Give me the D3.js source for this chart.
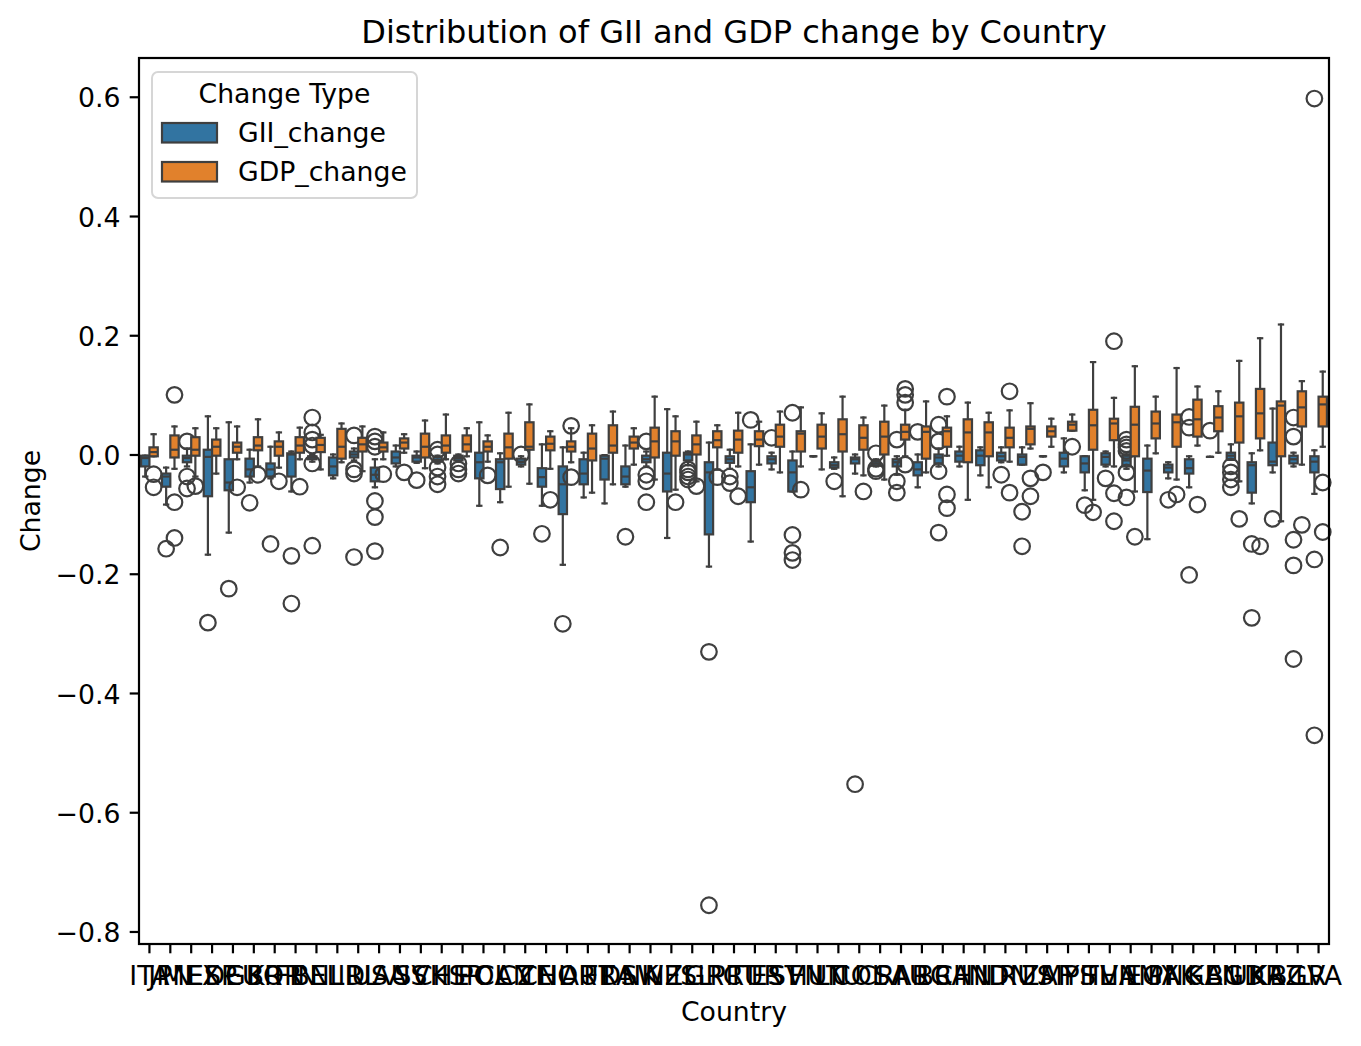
<!DOCTYPE html>
<html>
<head>
<meta charset="utf-8">
<script src="https://cdn.jsdelivr.net/npm/d3@7"></script>
<style>
  body { margin: 0; background: #fff; }
  text { font-family: "DejaVu Sans", sans-serif; fill: #000; }
</style>
</head>
<body>
<div id="chart"></div>
<script>
const countries = ["ITA","JPN","MEX","ESP","DEU","GBR","KOR","FIN","BEL","NLD","IRL","USA","AUS","SVK","CHE","ISR","POL","CAN","CZE","CHL","NOR","AUT","FRA","DNK","SWE","NZL","ISL","GRC","PRT","TUR","EST","SVN","HUN","LTU","COL","CRI","SAU","ARG","BRA","CHN","IND","IDN","RUS","ZAF","MYS","PHL","THA","VNM","EGY","PAK","NGA","KEN","BGD","UKR","KAZ","BGR","LVA"];

const changeTypes = ["GII_change", "GDP_change"];

// [lower whisker, q1, median, q3, upper whisker]
const giiStats = [
  [-0.037,-0.02,-0.006,-0.002,-0.002],[-0.084,-0.054,-0.037,-0.032,-0.022],[-0.02,-0.013,-0.006,-0.002,0.01],
  [-0.168,-0.07,-0.004,0.008,0.064],[-0.131,-0.06,-0.047,-0.008,0.054],[-0.047,-0.037,-0.025,-0.007,0.008],
  [-0.04,-0.037,-0.025,-0.015,0.013],[-0.062,-0.037,0.0,0.002,0.005],[-0.012,-0.008,-0.005,-0.003,0.0],
  [-0.04,-0.035,-0.02,-0.005,0.0],[-0.01,-0.005,0.0,0.005,0.01],[-0.055,-0.045,-0.034,-0.022,-0.008],
  [-0.02,-0.015,-0.005,0.005,0.015],[-0.014,-0.012,-0.005,-0.002,0.005],[-0.015,-0.012,-0.009,-0.004,-0.002],
  [-0.012,-0.01,-0.006,-0.002,0.0],[-0.086,-0.04,-0.013,0.003,0.054],[-0.08,-0.058,-0.013,-0.008,0.002],
  [-0.02,-0.017,-0.012,-0.007,-0.003],[-0.086,-0.054,-0.038,-0.023,0.017],[-0.185,-0.1,-0.05,-0.02,0.012],
  [-0.072,-0.05,-0.032,-0.008,0.003],[-0.082,-0.042,-0.007,-0.002,-0.001],[-0.054,-0.05,-0.037,-0.02,0.015],
  [-0.02,-0.013,-0.008,-0.002,0.005],[-0.14,-0.062,-0.032,0.003,0.076],[-0.018,-0.01,0.0,0.003,0.005],
  [-0.188,-0.134,-0.03,-0.013,0.02],[-0.024,-0.014,-0.008,-0.003,0.008],[-0.146,-0.08,-0.055,-0.028,0.017],
  [-0.025,-0.015,-0.008,-0.003,0.003],[-0.062,-0.062,-0.03,-0.01,0.005],[-0.003,-0.003,-0.003,-0.003,-0.003],
  [-0.024,-0.022,-0.018,-0.013,-0.005],[-0.032,-0.015,-0.008,-0.005,0.0],[-0.02,-0.019,-0.015,-0.011,-0.008],
  [-0.034,-0.02,-0.013,-0.008,-0.003],[-0.055,-0.035,-0.025,-0.013,0.0],[-0.02,-0.015,-0.005,0.0,0.01],
  [-0.02,-0.012,-0.002,0.005,0.013],[-0.035,-0.018,-0.002,0.007,0.012],[-0.013,-0.01,-0.003,0.003,0.012],
  [-0.017,-0.017,-0.004,0.0,0.012],[-0.003,-0.003,-0.003,-0.003,-0.003],[-0.03,-0.02,-0.007,0.003,0.027],
  [-0.06,-0.03,-0.015,-0.003,-0.003],[-0.02,-0.017,-0.004,0.002,0.005],[-0.024,-0.02,-0.01,-0.002,0.003],
  [-0.142,-0.063,-0.027,-0.007,0.015],[-0.04,-0.03,-0.022,-0.017,-0.013],[-0.055,-0.032,-0.023,-0.008,-0.003],
  [-0.004,-0.004,-0.004,-0.004,-0.004],[-0.009,-0.009,-0.002,0.003,0.017],[-0.082,-0.064,-0.018,-0.013,0.002],
  [-0.03,-0.018,-0.012,0.02,0.077],[-0.02,-0.015,-0.008,-0.002,0.003],[-0.066,-0.03,-0.012,-0.003,0.007]
];

const giiOutliers = [
  [],[-0.158],[0.022,-0.037,-0.057],[-0.282],[-0.225],[-0.081],[-0.15],[-0.17,-0.25],
  [0.062,0.037,0.025,0.015,-0.015,-0.153],[],[0.032,-0.025,-0.032,-0.172],[0.03,0.022,0.013,-0.078,-0.105,-0.162],
  [],[-0.043],[0.008,0.0,-0.022,-0.037,-0.05],[-0.015,-0.025,-0.032],[],[-0.156],[0.0],[-0.133],[-0.284],
  [],[],[-0.138],[0.022,-0.034,-0.045,-0.08],[],[-0.025,-0.03,-0.037,-0.042],[-0.331,-0.756],[-0.037,-0.048],
  [0.058],[0.028],[0.07,-0.135,-0.165,-0.177],[],[-0.045],[-0.553],[0.002,-0.024,-0.028],[0.025,-0.045,-0.064],
  [0.038],[0.05,0.022,-0.028,-0.131],[],[],[-0.034],[-0.096,-0.154],[-0.03],[],[-0.085],[-0.04],
  [0.025,0.017,0.012,0.006,-0.03,-0.072],[],[-0.076],[0.063,0.045,-0.202],[0.04],[-0.02,-0.03,-0.042,-0.055],
  [-0.15,-0.274],[-0.108],[0.062,0.03,-0.143,-0.186,-0.343],[0.597,-0.176,-0.471]
];

const gdpStats = [
  [-0.003,-0.003,0.004,0.012,0.034],[-0.024,-0.005,0.008,0.032,0.047],[-0.037,-0.002,0.008,0.029,0.044],
  [-0.032,-0.002,0.013,0.025,0.044],[-0.008,0.003,0.013,0.02,0.047],[-0.02,0.007,0.015,0.029,0.059],
  [-0.022,-0.002,0.013,0.022,0.037],[-0.008,0.003,0.015,0.029,0.045],[-0.025,0.004,0.016,0.028,0.033],
  [-0.013,-0.007,0.013,0.043,0.052],[-0.028,0.005,0.017,0.028,0.047],[-0.008,0.005,0.012,0.02,0.037],
  [0.003,0.01,0.02,0.027,0.034],[-0.023,-0.005,0.013,0.035,0.057],[-0.008,0.003,0.015,0.032,0.067],
  [-0.003,0.005,0.017,0.032,0.044],[-0.012,0.005,0.013,0.022,0.032],[-0.054,-0.007,0.012,0.035,0.07],
  [-0.049,0.008,0.013,0.054,0.084],[-0.024,0.007,0.018,0.03,0.039],[-0.013,0.005,0.013,0.022,0.044],
  [-0.064,-0.01,0.01,0.035,0.049],[-0.05,0.003,0.015,0.049,0.072],[-0.017,0.01,0.02,0.03,0.044],
  [-0.042,-0.005,0.022,0.045,0.097],[-0.059,-0.002,0.022,0.039,0.064],[-0.045,0.0,0.017,0.032,0.055],
  [-0.025,0.012,0.024,0.039,0.049],[-0.02,0.003,0.025,0.04,0.07],[-0.017,0.014,0.025,0.039,0.055],
  [-0.03,0.013,0.03,0.05,0.072],[-0.02,0.005,0.035,0.039,0.079],[-0.025,0.01,0.03,0.05,0.069],
  [-0.07,0.005,0.034,0.059,0.097],[-0.035,0.008,0.028,0.049,0.062],[-0.042,0.0,0.03,0.055,0.082],
  [-0.003,0.025,0.038,0.05,0.075],[-0.03,-0.007,0.038,0.047,0.089],[-0.002,0.013,0.039,0.045,0.064],
  [-0.076,-0.013,0.037,0.059,0.087],[-0.055,-0.003,0.037,0.054,0.07],[-0.012,0.012,0.028,0.045,0.074],
  [0.01,0.017,0.043,0.047,0.086],[0.013,0.03,0.039,0.047,0.06],[0.04,0.04,0.05,0.055,0.067],
  [-0.076,0.008,0.049,0.075,0.155],[-0.02,0.024,0.052,0.06,0.095],[-0.062,-0.003,0.05,0.08,0.148],
  [0.002,0.027,0.052,0.072,0.097],[-0.042,0.013,0.054,0.067,0.145],[0.015,0.03,0.059,0.092,0.114],
  [0.003,0.039,0.062,0.081,0.106],[-0.045,0.02,0.064,0.087,0.157],[0.007,0.027,0.069,0.11,0.195],
  [-0.112,-0.003,0.082,0.089,0.218],[-0.017,0.047,0.079,0.106,0.123],[0.013,0.047,0.084,0.097,0.139]
];

const gdpOutliers = [
  [-0.033,-0.055],[0.1,-0.08,-0.14],[-0.053],[],[-0.055],[-0.034],[-0.045],[-0.054],[],[],[],[-0.033],
  [-0.03],[],[],[],[-0.035],[],[],[-0.076],[0.048,-0.038],[],[],[],[],[-0.08],[-0.053],[-0.038],[-0.07],
  [],[],[-0.059],[],[],[-0.062],[],[0.11,0.1,0.087,-0.017],[],[0.097,-0.067,-0.09],[],[],[0.106,-0.064],
  [-0.04,-0.07],[],[0.013],[-0.097],[0.19,-0.065,-0.112],[-0.138],[],[-0.067],[-0.084],[],[-0.108],
  [-0.154],[],[-0.118],[-0.047,-0.13]
];

const yTicks = [-0.8, -0.6, -0.4, -0.2, 0.0, 0.2, 0.4, 0.6];

function init() {
  const margin = { top: 58, right: 32, bottom: 102, left: 139 },
    width = 1361 - margin.left - margin.right,
    height = 1046 - margin.top - margin.bottom;
  const lineColor = "#3f3f3f";
  const lw = 2.2;

  const svgRoot = d3.select("#chart").append("svg")
    .attr("width", 1361).attr("height", 1046);
  const svg = svgRoot.append("g")
    .attr("transform", "translate(" + margin.left + "," + margin.top + ")");

  const x = d3.scaleBand().domain(countries).range([0, width]).padding(0);
  const hue = d3.scaleBand().domain(changeTypes)
    .range([0.1 * x.bandwidth(), 0.9 * x.bandwidth()]).padding(0);
  const y = d3.scaleLinear().domain([-0.821, 0.665]).range([height, 0]);
  const color = d3.scaleOrdinal().domain(changeTypes).range(["#3274a1", "#e1812c"]);

  const series = [
    { key: "GII_change", stats: giiStats, outs: giiOutliers },
    { key: "GDP_change", stats: gdpStats, outs: gdpOutliers }
  ];

  const bw = hue.bandwidth();
  const capW = bw * 0.5;

  series.forEach(s => {
    const g = svg.append("g");
    const boxes = g.selectAll("g.box")
      .data(countries.map((c, i) => ({ country: c, st: s.stats[i], outs: s.outs[i] })))
      .enter().append("g")
      .attr("class", "box")
      .attr("transform", d => "translate(" + (x(d.country) + hue(s.key)) + ",0)");

    // whiskers
    boxes.append("line")
      .attr("x1", bw / 2).attr("x2", bw / 2)
      .attr("y1", d => y(d.st[3])).attr("y2", d => y(d.st[4]));
    boxes.append("line")
      .attr("x1", bw / 2).attr("x2", bw / 2)
      .attr("y1", d => y(d.st[1])).attr("y2", d => y(d.st[0]));
    // caps
    boxes.append("line")
      .attr("x1", bw / 2 - capW / 2).attr("x2", bw / 2 + capW / 2)
      .attr("y1", d => y(d.st[4])).attr("y2", d => y(d.st[4]));
    boxes.append("line")
      .attr("x1", bw / 2 - capW / 2).attr("x2", bw / 2 + capW / 2)
      .attr("y1", d => y(d.st[0])).attr("y2", d => y(d.st[0]));
    boxes.selectAll("line")
      .attr("stroke", lineColor).attr("stroke-width", lw).attr("stroke-linecap", "square");

    // box
    boxes.append("rect")
      .attr("x", 0).attr("width", bw)
      .attr("y", d => y(d.st[3]))
      .attr("height", d => y(d.st[1]) - y(d.st[3]))
      .attr("fill", color(s.key))
      .attr("stroke", lineColor).attr("stroke-width", lw);

    // median
    boxes.append("line")
      .attr("x1", 0).attr("x2", bw)
      .attr("y1", d => y(d.st[2])).attr("y2", d => y(d.st[2]))
      .attr("stroke", lineColor).attr("stroke-width", lw);

    // fliers
    boxes.selectAll("circle")
      .data(d => d.outs)
      .enter().append("circle")
      .attr("cx", bw / 2)
      .attr("cy", d => y(d))
      .attr("r", 7.8)
      .attr("fill", "none")
      .attr("stroke", lineColor).attr("stroke-width", lw);
  });

  // axes
  const xAxis = svg.append("g")
    .attr("transform", "translate(0," + height + ")")
    .call(d3.axisBottom(x).tickSize(9.3).tickSizeOuter(0));
  xAxis.selectAll("text").attr("y", 41).attr("dy", null).style("font-size", "26.7px");

  const yAxis = svg.append("g")
    .call(d3.axisLeft(y).tickValues(yTicks).tickFormat(d3.format(".1f")).tickSize(9.3).tickSizeOuter(0));
  yAxis.selectAll("text").attr("x", -18.6).attr("dy", "0.38em").style("font-size", "26.7px");

  svg.selectAll(".domain").remove();
  svg.selectAll(".tick line").attr("stroke", "#000").attr("stroke-width", lw);
  svg.selectAll(".tick text").attr("font-family", "DejaVu Sans");

  svg.append("rect")
    .attr("x", 0).attr("y", 0).attr("width", width).attr("height", height)
    .attr("fill", "none").attr("stroke", "#000").attr("stroke-width", lw);

  // labels
  svgRoot.append("text")
    .attr("x", margin.left + width / 2).attr("y", 43)
    .attr("text-anchor", "middle").style("font-size", "32px")
    .text("Distribution of GII and GDP change by Country");
  svgRoot.append("text")
    .attr("x", margin.left + width / 2).attr("y", 1021)
    .attr("text-anchor", "middle").style("font-size", "26.7px")
    .text("Country");
  svgRoot.append("text")
    .attr("transform", "translate(40," + (margin.top + height / 2) + ") rotate(-90)")
    .attr("text-anchor", "middle").style("font-size", "26.7px")
    .text("Change");

  // legend
  const legend = svg.append("g").attr("transform", "translate(13,14)");
  legend.append("rect")
    .attr("width", 265).attr("height", 126).attr("rx", 6)
    .attr("fill", "#fff").attr("fill-opacity", 0.8)
    .attr("stroke", "#d6d6d6").attr("stroke-width", 2);
  legend.append("text")
    .attr("x", 132.5).attr("y", 31)
    .attr("text-anchor", "middle").style("font-size", "26.7px")
    .text("Change Type");
  const items = legend.selectAll("g.item")
    .data(changeTypes)
    .enter().append("g")
    .attr("class", "item")
    .attr("transform", (d, i) => "translate(0," + (51 + i * 39) + ")");
  items.append("rect")
    .attr("x", 10).attr("width", 55).attr("height", 19.5)
    .attr("fill", d => color(d))
    .attr("stroke", lineColor).attr("stroke-width", lw);
  items.append("text")
    .attr("x", 86).attr("y", 19)
    .style("font-size", "26.7px")
    .text(d => d);
}

window.onload = init;
</script>
</body>
</html>
